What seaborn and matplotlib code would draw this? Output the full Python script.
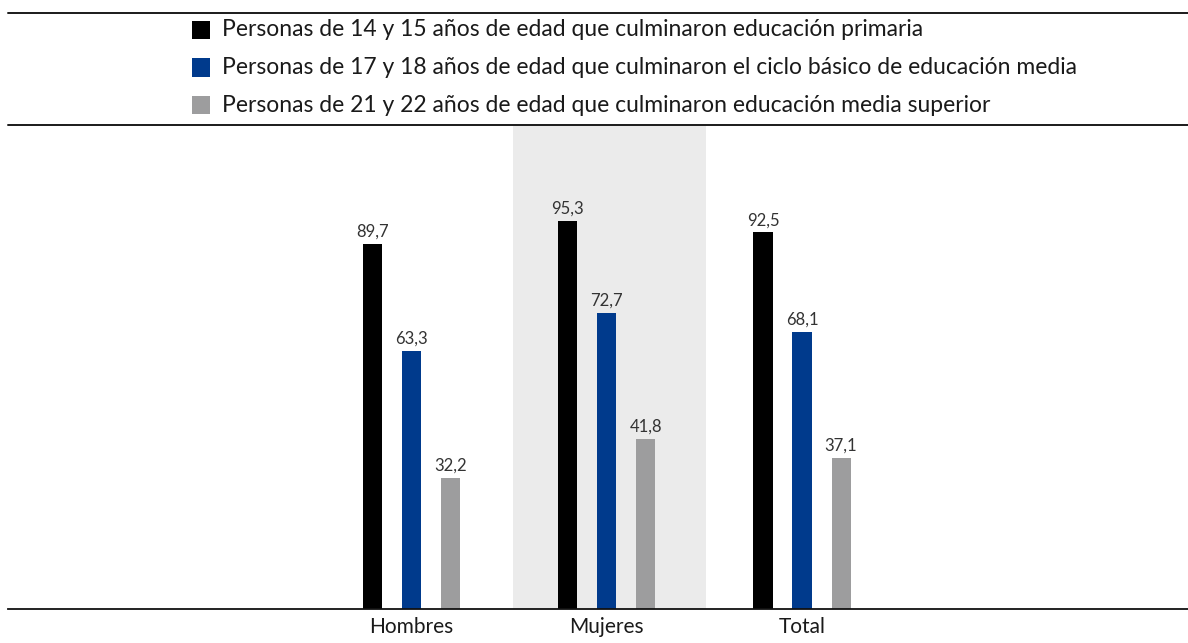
import matplotlib
matplotlib.use("Agg")
import matplotlib.pyplot as plt
from matplotlib.patches import Rectangle
from matplotlib.lines import Line2D
import seaborn as sns
import pandas as pd

# Groups on the x axis
categories = ["Hombres", "Mujeres", "Total"]

# Series (legend text) and their completion rates (%)
series_names = [
    "Personas de 14 y 15 años de edad que culminaron educación primaria",
    "Personas de 17 y 18 años de edad que culminaron el ciclo básico de educación media",
    "Personas de 21 y 22 años de edad que culminaron educación media superior",
]
primaria = [89.7, 95.3, 92.5]
ciclo_basico = [63.3, 72.7, 68.1]
media_superior = [32.2, 41.8, 37.1]

colors = ["#000000", "#003a8c", "#9d9d9e"]

rows = []
for name, vals in zip(series_names, [primaria, ciclo_basico, media_superior]):
    for cat, v in zip(categories, vals):
        rows.append({"grupo": cat, "serie": name, "valor": v})
df = pd.DataFrame(rows)

sns.set_theme(style="white")
plt.rcParams["font.family"] = ["Lato", "DejaVu Sans"]

W, H = 1188, 643
fig = plt.figure(figsize=(W / 100, H / 100), dpi=100)
ax = fig.add_axes([8 / W, (H - 609) / H, (W - 8) / W, (609 - 126) / H])

# Shaded band behind the middle group
ax.axvspan(0.52, 1.51, color="#ebebeb", lw=0, zorder=0)

sns.barplot(
    data=df, x="grupo", y="valor", hue="serie",
    order=categories, hue_order=series_names, palette=colors,
    width=0.6, gap=0.51, saturation=1, legend=False, ax=ax, zorder=2,
    linewidth=0, edgecolor="none",
)

for cont in ax.containers:
    labels = [f"{b.get_height():.1f}".replace(".", ",") for b in cont]
    ax.bar_label(cont, labels=labels, padding=3, fontsize=12, color="#333333")

ax.set_xlim(-2.067, 3.977)
ax.set_ylim(0, 118.6)
ax.set_xlabel("")
ax.set_ylabel("")
ax.set_yticks([])
ax.tick_params(axis="x", length=0, pad=6, labelsize=15, labelcolor="#1a1a1a")
for s in ["top", "left", "right"]:
    ax.spines[s].set_visible(False)
ax.spines["bottom"].set_color("#111111")
ax.spines["bottom"].set_linewidth(1.3)
ax.patch.set_alpha(0)

# Rules framing the legend block
for ypx in (13, 125):
    fig.add_artist(Line2D([8 / W, 1.0], [1 - ypx / H, 1 - ypx / H],
                          transform=fig.transFigure, color="#1a1a1a", lw=1.4))

# Legend entries
row_y = [30, 67.5, 105]
for name, col, ypx in zip(series_names, colors, row_y):
    fig.add_artist(Rectangle((192 / W, 1 - (ypx + 9) / H), 18 / W, 18 / H,
                             transform=fig.transFigure, color=col, lw=0))
    fig.text(222 / W, 1 - ypx / H, name, fontsize=16.5, color="#1a1a1a",
             va="center", ha="left")

fig.savefig("out.png", dpi=100)
